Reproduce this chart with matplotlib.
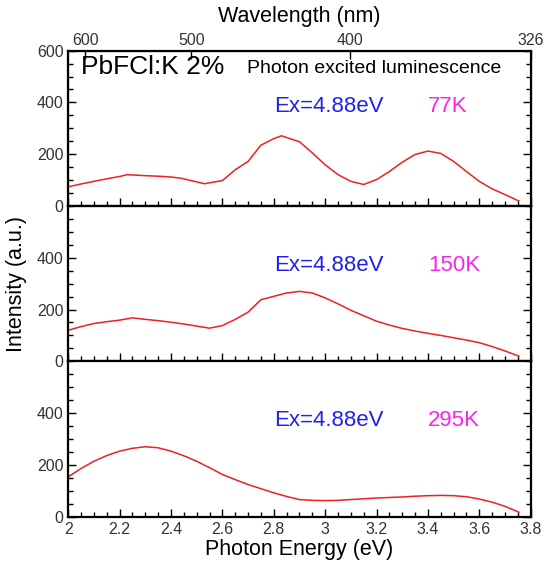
import matplotlib
matplotlib.use("Agg")
import matplotlib.pyplot as plt
from matplotlib.ticker import MultipleLocator, FuncFormatter

plt.rcParams['font.family'] = ['Liberation Sans', 'DejaVu Sans']

# photon energy (eV) and intensity
e_77 = [2.0, 2.05, 2.1, 2.15, 2.2, 2.23, 2.3, 2.35, 2.4, 2.44, 2.5, 2.53, 2.6, 2.65,
        2.7, 2.75, 2.8, 2.83, 2.9, 2.95, 3.0, 3.05, 3.1, 3.15, 3.2, 3.25, 3.3,
        3.35, 3.4, 3.45, 3.5, 3.55, 3.6, 3.65, 3.7, 3.754]
i_77 = [74, 85, 95, 105, 114, 121, 117, 115, 112, 107, 93, 86, 98, 140,
        172, 235, 260, 271, 248, 205, 159, 121, 95, 83, 102, 133, 169,
        199, 212, 203, 172, 133, 95, 66, 44, 19]

e_150 = [2.0, 2.05, 2.1, 2.15, 2.2, 2.25, 2.3, 2.35, 2.4, 2.45, 2.5, 2.55, 2.6, 2.65,
         2.7, 2.75, 2.8, 2.85, 2.9, 2.95, 3.0, 3.05, 3.1, 3.15, 3.2, 3.25, 3.3,
         3.35, 3.4, 3.45, 3.5, 3.55, 3.6, 3.65, 3.7, 3.754]
i_150 = [120, 134, 146, 153, 159, 168, 162, 157, 151, 144, 136, 128, 138, 162,
         190, 238, 251, 264, 270, 264, 245, 222, 197, 176, 155, 140, 127,
         117, 108, 100, 91, 82, 72, 57, 40, 20]

e_295 = [2.0, 2.05, 2.1, 2.15, 2.2, 2.25, 2.3, 2.35, 2.4, 2.45, 2.5, 2.55, 2.6, 2.65,
         2.7, 2.75, 2.8, 2.85, 2.9, 2.95, 3.0, 3.05, 3.1, 3.15, 3.2, 3.25, 3.3,
         3.35, 3.4, 3.45, 3.5, 3.55, 3.6, 3.65, 3.7, 3.754]
i_295 = [154, 186, 214, 236, 253, 264, 270, 266, 253, 235, 214, 189, 163, 143,
         124, 108, 92, 78, 66, 63, 62, 63, 66, 69, 72, 74, 76,
         79, 81, 82, 81, 77, 68, 56, 40, 17]

temps = ['77K', '150K', '295K']
wl_ticks = [600, 500, 400, 326]

fig, axes = plt.subplots(3, 1, figsize=(5.46, 5.69), dpi=100, sharex=True)
fig.subplots_adjust(left=0.125, right=0.972, bottom=0.092, top=0.911, hspace=0)

series = [(e_77, i_77), (e_150, i_150), (e_295, i_295)]
lab_col = '#333333'

for k, ax in enumerate(axes):
    x, y = series[k]
    ax.plot(x, y, color='#ee2020', lw=1.1)
    ax.set_xlim(2, 3.8)
    ax.set_ylim(0, 600)
    if k == 0:
        ax.set_yticks([0, 200, 400, 600])
    else:
        ax.set_yticks([0, 200, 400])
    ax.yaxis.set_minor_locator(MultipleLocator(50))
    ax.xaxis.set_major_locator(MultipleLocator(0.2))
    ax.xaxis.set_minor_locator(MultipleLocator(0.05))
    ax.tick_params(which='both', direction='in', right=True, top=False,
                   width=1.0, colors='black', labelcolor=lab_col, labelsize=11.5)
    ax.tick_params(which='major', length=6)
    ax.tick_params(which='minor', length=3.5)
    for s in ax.spines.values():
        s.set_linewidth(1.6)
    ax.text(2.80, 385 if k == 0 else 370, 'Ex=4.88eV', color='#2020ee',
            fontsize=16, va='center', ha='left')
    ax.text(3.40, 385 if k == 0 else 370, temps[k], color='#ff22ee',
            fontsize=16, va='center', ha='left')

axes[-1].xaxis.set_major_formatter(FuncFormatter(lambda v, p: '%g' % round(v, 1)))
axes[-1].set_xlabel('Photon Energy (eV)', fontsize=15.5, labelpad=2)
fig.text(0.03, 0.5, 'Intensity (a.u.)', rotation=90, va='center', ha='center',
         fontsize=15.5)

axes[0].text(2.05, 535, 'PbFCl:K 2%', fontsize=19, va='center', ha='left')
axes[0].text(2.695, 530, 'Photon excited luminescence', fontsize=14,
             va='center', ha='left')

# top wavelength axis
top = axes[0].twiny()
top.set_xlim(2, 3.8)
top.set_xticks([1239.84 / w for w in wl_ticks])
top.set_xticklabels([str(w) for w in wl_ticks])
top.tick_params(direction='in', length=6, width=1.0, labelcolor=lab_col,
                labelsize=11.5, pad=2)
top.set_xlabel('Wavelength (nm)', fontsize=15.5, labelpad=8)

fig.savefig('out.png', dpi=100)
